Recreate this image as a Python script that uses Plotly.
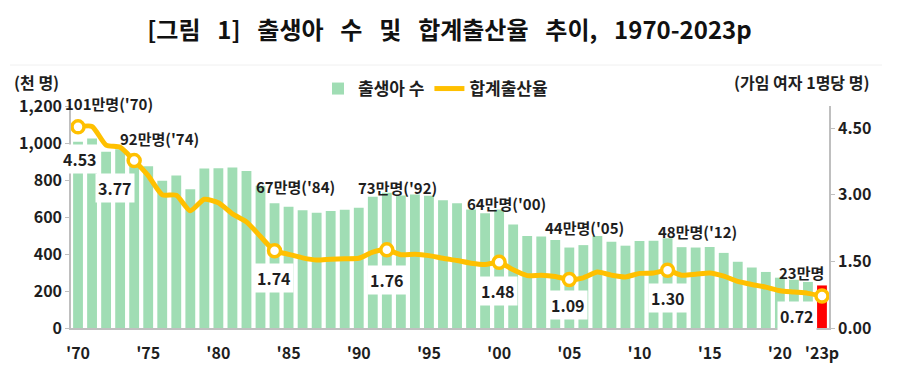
import plotly.graph_objects as go

years = list(range(1970, 2024))
births = [1007, 1024, 953, 966, 922, 875, 796, 825, 750, 862,
          863, 867, 848, 769, 675, 655, 636, 623, 633, 639,
          650, 709, 731, 716, 721, 715, 691, 675, 641, 620,
          640, 559, 497, 495, 476, 435, 448, 497, 466, 445,
          470, 471, 485, 437, 435, 438, 406, 358, 327, 303,
          272, 261, 249, 230]
tfr = [4.53, 4.54, 4.12, 4.07, 3.77, 3.43, 3.00, 2.99, 2.64, 2.90,
       2.82, 2.57, 2.39, 2.06, 1.74, 1.66, 1.58, 1.53, 1.55, 1.56,
       1.57, 1.71, 1.76, 1.65, 1.66, 1.63, 1.57, 1.52, 1.46, 1.43,
       1.48, 1.31, 1.18, 1.19, 1.16, 1.09, 1.13, 1.26, 1.19, 1.15,
       1.23, 1.24, 1.30, 1.19, 1.21, 1.24, 1.17, 1.05, 0.98, 0.92,
       0.84, 0.81, 0.78, 0.72]

hl_years = [1970, 1974, 1984, 1992, 2000, 2005, 2012, 2023]
hl_birth_labels = ["101만명('70)", "92만명('74)", "67만명('84)", "73만명('92)",
                   "64만명('00)", "44만명('05)", "48만명('12)", "23만명"]
hl_tfr_labels = ["4.53", "3.77", "1.74", "1.76", "1.48", "1.09", "1.30", "0.72"]

tick_vals = [1970, 1975, 1980, 1985, 1990, 1995, 2000, 2005, 2010, 2015, 2020, 2023]
tick_text = ["'70", "'75", "'80", "'85", "'90", "'95", "'00", "'05", "'10", "'15", "'20", "'23p"]

left_ticks = [0, 200, 400, 600, 800, 1000, 1200]
left_tick_text = ["0", "200", "400", "600", "800", "1,000", "1,200"]
right_ticks = [0, 1.5, 3.0, 4.5]
right_tick_text = ["0.00", "1.50", "3.00", "4.50"]

title_text = "[그림 1] 출생아 수 및 합계출산율 추이, 1970-2023p"

# label offsets in pixels (dx, dy up) relative to the marker
above_off = [(31, 23), (25, 22), (21, 64), (11, 62), (7, 59), (15, 52), (30, 39), (-20, 24)]
below_off = [(2, -32), (-19, -27), (-1, -27), (0, -30), (-1, -29), (-1, -25), (0, -28), (-25, -20)]

FONT = "Noto Sans CJK KR"
GREEN = "#A0DDB4"
YELLOW = "#FFC000"
TXT = "#1e1e1e"

W, H = 899, 372
ML, MR, MT, MB = 71, 70, 106, 44
PW, PH = W - ML - MR, H - MT - MB


def px_to_paper(px, py):
    return (px - ML) / PW, (H - MB - py) / PH


bar_colors = [GREEN] * (len(years) - 1) + ["#FF0000"]

fig = go.Figure()
fig.add_trace(go.Bar(x=years, y=births, name="출생아 수", marker=dict(color=bar_colors, line=dict(width=0)),
                     width=0.7, yaxis="y"))
fig.add_trace(go.Scatter(x=years, y=tfr, name="합계출산율", mode="lines",
                         line=dict(color=YELLOW, width=5, shape="spline", smoothing=0.6), yaxis="y2"))
hl_tfr = [tfr[years.index(y)] for y in hl_years]
fig.add_trace(go.Scatter(x=hl_years, y=hl_tfr, mode="markers", showlegend=False, yaxis="y2",
                         marker=dict(size=12, color="white", line=dict(color=YELLOW, width=3.5))))

annotations = []
for yr, v, bl, tl, (ax_, ay_), (bx_, by_) in zip(hl_years, hl_tfr, hl_birth_labels, hl_tfr_labels,
                                                   above_off, below_off):
    annotations.append(dict(x=yr, y=v, xref="x", yref="y2", text=bl, showarrow=False,
                            xshift=ax_, yshift=ay_,
                            font=dict(family=FONT, size=15, color=TXT, weight="bold")))
    annotations.append(dict(x=yr, y=v, xref="x", yref="y2", text=tl, showarrow=False,
                            xshift=bx_, yshift=by_, bgcolor="white", borderpad=2,
                            font=dict(family=FONT, size=16, color=TXT, weight="bold")))

lx, ly = px_to_paper(12, 82)
annotations.append(dict(x=lx, y=ly, xref="paper", yref="paper", text="(천 명)",
                        showarrow=False, xanchor="left", yanchor="middle",
                        font=dict(family=FONT, size=16, color=TXT, weight="bold")))
rx, ry = px_to_paper(871, 82)
annotations.append(dict(x=rx, y=ry, xref="paper", yref="paper",
                        text="(가임 여자 1명당 명)", showarrow=False, xanchor="right", yanchor="middle",
                        font=dict(family=FONT, size=16, color=TXT, weight="bold")))

sx0, sy = px_to_paper(10, 65)
sx1, _ = px_to_paper(882, 65)
gx, gy = px_to_paper(318, 89)

fig.update_layout(
    width=W, height=H,
    margin=dict(l=ML, r=MR, t=MT, b=MB, pad=0, autoexpand=False),
    paper_bgcolor="white", plot_bgcolor="white",
    title=dict(text=title_text.replace(" ", "\u2002\u2009"), x=0.5, xanchor="center",
               xref="container", y=1 - 31 / H, yref="container", yanchor="middle",
               font=dict(family=FONT, size=24, color="#111111", weight="bold")),
    font=dict(family=FONT, color=TXT),
    showlegend=True,
    legend=dict(orientation="h", x=gx, y=gy, xref="paper", yref="paper",
                xanchor="left", yanchor="middle",
                font=dict(family=FONT, size=17, color=TXT, weight="bold"),
                bgcolor="rgba(0,0,0,0)", itemwidth=30, tracegroupgap=0),
    xaxis=dict(range=[1969.5, 2023.5], tickvals=tick_vals, ticktext=tick_text, showgrid=False,
               showline=True, linecolor="#BFBFBF", linewidth=1.5, ticks="", zeroline=False,
               ticklabelstandoff=10,
               tickfont=dict(family=FONT, size=16, color=TXT, weight="bold")),
    yaxis=dict(range=[0, 1200], tickvals=left_ticks, ticktext=left_tick_text, showgrid=False,
               showline=True, linecolor="#BFBFBF", linewidth=1.5, ticks="outside", ticklen=4,
               tickcolor="#BFBFBF", zeroline=False,
               tickfont=dict(family=FONT, size=16, color=TXT, weight="bold")),
    yaxis2=dict(range=[0, 5], tickvals=right_ticks, ticktext=right_tick_text, overlaying="y", side="right",
                showgrid=False, showline=True, linecolor="#BFBFBF", linewidth=1.5, ticks="outside",
                ticklen=4, tickcolor="#BFBFBF", zeroline=False,
                tickfont=dict(family=FONT, size=16, color=TXT, weight="bold")),
    annotations=annotations,
    shapes=[dict(type="line", xref="paper", yref="paper", x0=sx0, x1=sx1,
                 y0=sy, y1=sy, line=dict(color="#F0F0F0", width=1))],
)

fig.write_html("out.html", config={"displayModeBar": False},
               post_script="document.body.style.margin='0';document.body.style.overflow='hidden';")
